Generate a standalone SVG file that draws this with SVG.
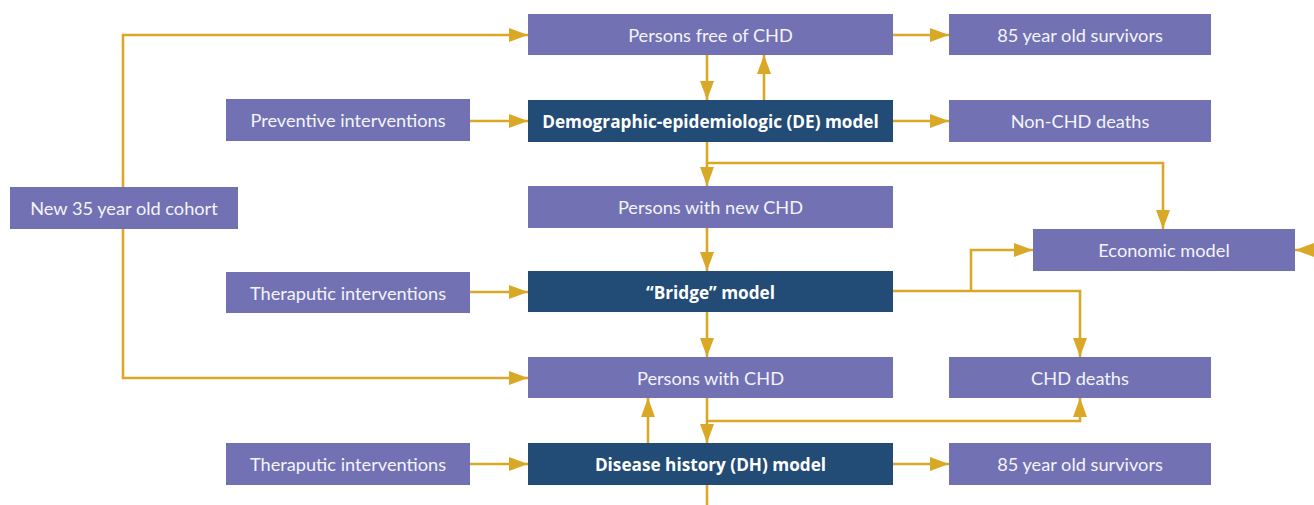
<svg xmlns="http://www.w3.org/2000/svg" width="1314" height="505" viewBox="0 0 1314 505">
<style>
.b{fill:#7171b3}
.d{fill:#224b75}
.t{font-family:Lato,"Open Sans",sans-serif;font-size:18.2px;fill:#f4f4fa;text-anchor:middle;dominant-baseline:central}
.tb{font-family:"Open Sans",Lato,sans-serif;font-weight:bold;font-size:17.2px;fill:#ffffff;text-anchor:middle;dominant-baseline:central}
.c{fill:none;stroke:#d9a826;stroke-width:2.6}
</style>
<defs>
<marker id="a" markerUnits="userSpaceOnUse" markerWidth="20" markerHeight="14" refX="19" refY="7" orient="auto">
<path d="M0,0 L19,7 L0,14 Z" fill="#d9a826"/>
</marker>
</defs>
<g id="connectors">
<path class="c" d="M123,187 V35 H528" marker-end="url(#a)"/>
<path class="c" d="M123,229 V378 H528" marker-end="url(#a)"/>
<path class="c" d="M893,35 H949" marker-end="url(#a)"/>
<path class="c" d="M707,55 V100" marker-end="url(#a)"/>
<path class="c" d="M764,100 V55" marker-end="url(#a)"/>
<path class="c" d="M470,121 H528" marker-end="url(#a)"/>
<path class="c" d="M893,121 H949" marker-end="url(#a)"/>
<path class="c" d="M707,141 V186" marker-end="url(#a)"/>
<path class="c" d="M707,163 H1163 V229" marker-end="url(#a)"/>
<path class="c" d="M707,228 V271" marker-end="url(#a)"/>
<path class="c" d="M470,292 H528" marker-end="url(#a)"/>
<path class="c" d="M893,291 H1080 V357" marker-end="url(#a)"/>
<path class="c" d="M971,291 V250 H1033" marker-end="url(#a)"/>
<path class="c" d="M1330,250 H1295" marker-end="url(#a)"/>
<path class="c" d="M707,312 V357" marker-end="url(#a)"/>
<path class="c" d="M707,398 V443" marker-end="url(#a)"/>
<path class="c" d="M707,421 H1080 V398" marker-end="url(#a)"/>
<path class="c" d="M648,443 V398" marker-end="url(#a)"/>
<path class="c" d="M470,464 H528" marker-end="url(#a)"/>
<path class="c" d="M893,464 H949" marker-end="url(#a)"/>
<path class="c" d="M707,485 V505"/>
</g>
<g id="free"><rect class="b" x="528" y="14" width="365" height="41"/><text class="t" x="710.5" y="35">Persons free of CHD</text></g>
<g id="surv1"><rect class="b" x="949" y="14" width="262" height="41"/><text class="t" x="1080" y="35">85 year old survivors</text></g>
<g id="prev"><rect class="b" x="226" y="99" width="244" height="42"/><text class="t" x="348" y="120">Preventive interventions</text></g>
<g id="de"><rect class="d" x="528" y="100" width="365" height="42"/><text class="tb" x="710.5" y="121">Demographic-epidemiologic (DE) model</text></g>
<g id="nonchd"><rect class="b" x="949" y="100" width="262" height="42"/><text class="t" x="1080" y="121">Non-CHD deaths</text></g>
<g id="cohort"><rect class="b" x="10" y="187" width="228" height="42"/><text class="t" x="124" y="208">New 35 year old cohort</text></g>
<g id="newchd"><rect class="b" x="528" y="186" width="365" height="42"/><text class="t" x="710.5" y="207">Persons with new CHD</text></g>
<g id="econ"><rect class="b" x="1033" y="229" width="262" height="42"/><text class="t" x="1164" y="250">Economic model</text></g>
<g id="ther1"><rect class="b" x="226" y="272" width="244" height="41"/><text class="t" x="348" y="293">Theraputic interventions</text></g>
<g id="bridge"><rect class="d" x="528" y="271" width="365" height="41"/><text class="tb" x="710.5" y="292">“Bridge” model</text></g>
<g id="withchd"><rect class="b" x="528" y="357" width="365" height="41"/><text class="t" x="710.5" y="378">Persons with CHD</text></g>
<g id="chddeaths"><rect class="b" x="949" y="357" width="262" height="41"/><text class="t" x="1080" y="378">CHD deaths</text></g>
<g id="ther2"><rect class="b" x="226" y="443" width="244" height="42"/><text class="t" x="348" y="464">Theraputic interventions</text></g>
<g id="dh"><rect class="d" x="528" y="443" width="365" height="42"/><text class="tb" x="710.5" y="464">Disease history (DH) model</text></g>
<g id="surv2"><rect class="b" x="949" y="443" width="262" height="42"/><text class="t" x="1080" y="464">85 year old survivors</text></g>
</svg>
